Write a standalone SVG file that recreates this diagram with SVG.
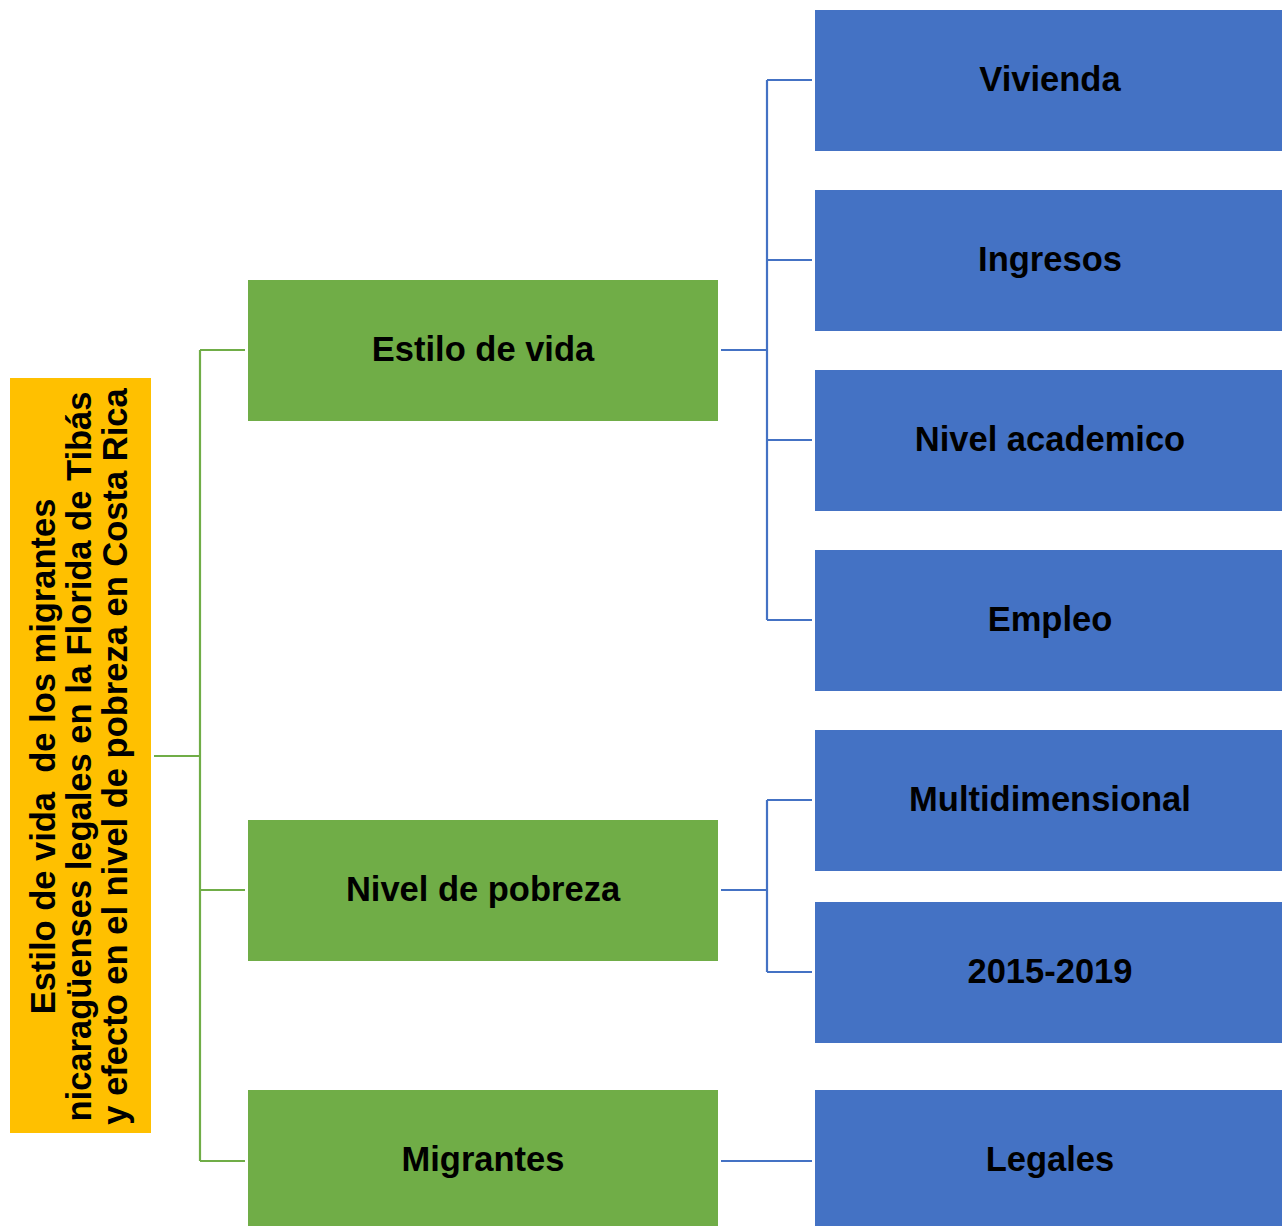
<svg xmlns="http://www.w3.org/2000/svg" width="1282" height="1226" viewBox="0 0 1282 1226">
<style>
.root{fill:#FFC000}
.green{fill:#70AD47}
.blue{fill:#4472C4}
.lbl{font-family:"Liberation Sans",Arial,sans-serif;font-weight:bold;font-size:34.5px;fill:#000;text-anchor:middle;white-space:pre}
.cg{stroke:#70AD47;stroke-width:2.2;fill:none}
.cb{stroke:#4472C4;stroke-width:2.2;fill:none}
</style>
<rect width="1282" height="1226" fill="#fff"/>
<g id="connectors">
<path class="cg" d="M154,756H200M200,350V1161M200,350H245M200,890H245M200,1161H245"/>
<path class="cb" d="M721,350H767M767,80V620M767,80H812M767,260H812M767,440H812M767,620H812"/>
<path class="cb" d="M721,890H767M767,800V972M767,800H812M767,972H812"/>
<path class="cb" d="M721,1161H812"/>
</g>
<g id="root">
<rect class="root" x="10" y="378" width="141" height="755"/>
<text class="lbl" transform="translate(55,756.5) rotate(-90)">Estilo de vida  de los migrantes</text>
<text class="lbl" transform="translate(91,756.5) rotate(-90)">nicaragüenses legales en la Florida de Tibás</text>
<text class="lbl" transform="translate(127,756.5) rotate(-90)">y efecto en el nivel de pobreza en Costa Rica</text>
</g>
<g id="estilo">
<rect class="green" x="248" y="280" width="470" height="141"/>
<text class="lbl" x="483" y="361">Estilo de vida</text>
</g>
<g id="pobreza">
<rect class="green" x="248" y="820" width="470" height="141"/>
<text class="lbl" x="483" y="901">Nivel de pobreza</text>
</g>
<g id="migrantes">
<rect class="green" x="248" y="1090" width="470" height="141"/>
<text class="lbl" x="483" y="1171">Migrantes</text>
</g>
<g id="vivienda">
<rect class="blue" x="815" y="10" width="467" height="141"/>
<text class="lbl" x="1050" y="91">Vivienda</text>
</g>
<g id="ingresos">
<rect class="blue" x="815" y="190" width="467" height="141"/>
<text class="lbl" x="1050" y="271">Ingresos</text>
</g>
<g id="academico">
<rect class="blue" x="815" y="370" width="467" height="141"/>
<text class="lbl" x="1050" y="451">Nivel academico</text>
</g>
<g id="empleo">
<rect class="blue" x="815" y="550" width="467" height="141"/>
<text class="lbl" x="1050" y="631">Empleo</text>
</g>
<g id="multidimensional">
<rect class="blue" x="815" y="730" width="467" height="141"/>
<text class="lbl" x="1050" y="811">Multidimensional</text>
</g>
<g id="periodo">
<rect class="blue" x="815" y="902" width="467" height="141"/>
<text class="lbl" x="1050" y="983">2015-2019</text>
</g>
<g id="legales">
<rect class="blue" x="815" y="1090" width="467" height="141"/>
<text class="lbl" x="1050" y="1171">Legales</text>
</g>
</svg>
